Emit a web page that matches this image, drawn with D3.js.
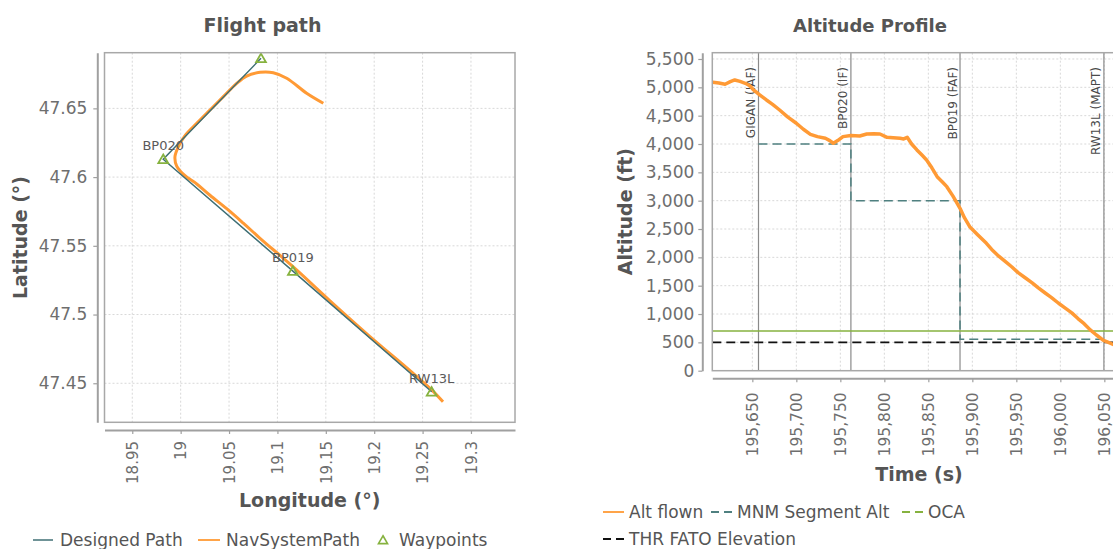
<!DOCTYPE html>
<html>
<head>
<meta charset="utf-8">
<script src="https://cdn.jsdelivr.net/npm/d3@7"></script>
<style>
  body { margin: 0; background: #fff; }
  svg { font-family: "DejaVu Sans", sans-serif; }
</style>
</head>
<body>
<script>
const w = 1113;
const h = 549;

// ---- Flight path data
const lonTicks = [18.95, 19, 19.05, 19.1, 19.15, 19.2, 19.25, 19.3];
const latTicks = [47.45, 47.5, 47.55, 47.6, 47.65];
const wpNames = ["GIGAN", "BP020", "BP019", "RW13L"];
const wpLon = [19.083, 18.982, 19.116, 19.2594];
const wpLat = [47.6864, 47.613, 47.5316, 47.4438];
const navLon = [19.1474, 19.1302, 19.1096, 19.0957, 19.0820, 19.0682, 19.0579, 19.0441, 19.0303,
                19.0166, 19.0045, 18.9976, 18.9941, 18.9959, 19.0045, 19.0166, 19.0303, 19.0476,
                19.0647, 19.0820, 19.1166, 19.1543, 19.1956, 19.2370, 19.2594, 19.2711];
const navLat = [47.6537, 47.6610, 47.6719, 47.6759, 47.6762, 47.6735, 47.6682, 47.6585, 47.6488,
                47.6391, 47.6302, 47.6221, 47.6148, 47.6080, 47.6010, 47.5950, 47.5868, 47.5770,
                47.5665, 47.5555, 47.5345, 47.5100, 47.4840, 47.4592, 47.4452, 47.4365];

// ---- Altitude profile data
const timeTicks = [195650, 195700, 195750, 195800, 195850, 195900, 195950, 196000, 196050];
const altTicks = [0, 500, 1000, 1500, 2000, 2500, 3000, 3500, 4000, 4500, 5000, 5500];
const flownTime = [195605, 195612, 195619, 195625, 195630, 195636, 195642, 195647, 195651, 195658,
                   195666, 195673, 195681, 195690, 195700, 195708, 195716, 195724, 195733, 195738,
                   195742, 195747, 195753, 195762, 195772, 195780, 195788, 195795, 195803, 195810,
                   195818, 195822, 195826, 195831, 195837, 195843, 195848, 195854, 195860, 195866,
                   195871, 195878, 195886, 195891, 195897, 195906, 195916, 195922, 195930, 195938,
                   195945, 195952, 195960, 195968, 195975, 195982, 195990, 195998, 196006, 196013,
                   196020, 196027, 196034, 196041, 196049, 196056, 196063];
const flownAlt = [5089, 5075, 5054, 5100, 5130, 5105, 5071, 5030, 4960, 4870,
                  4777, 4700, 4600, 4480, 4366, 4260, 4171, 4130, 4101, 4060,
                  4013, 4060, 4130, 4150, 4142, 4177, 4180, 4177, 4118, 4110,
                  4101, 4090, 4118, 4000, 3895, 3800, 3718, 3580, 3424, 3330,
                  3247, 3080, 2866, 2700, 2541, 2400, 2248, 2140, 2020, 1920,
                  1830, 1730, 1640, 1550, 1460, 1380, 1290, 1190, 1100, 1020,
                  920, 830, 720, 630, 535, 490, 445];
const markerTime = [195657, 195762, 195886, 196049.5];
const markerLabel = ["GIGAN (IAF)", "BP020 (IF)", "BP019 (FAF)", "RW13L (MAPT)"];
const mnmTime = [195657, 195762, 195762, 195886, 195886, 196049.5];
const mnmAlt = [4000, 4000, 3000, 3000, 555, 555];
const ocaAlt = 700;
const thrAlt = 500;

const teal = "#3f6f75";
const orange = "#ff9a35";
const green = "#86b23f";
const axisGrey = "#a0a0a0";
const tickText = "#6e6e6e";
const labelText = "#555";

const svg = d3.select("body").append("svg")
  .attr("width", w)
  .attr("height", h);

function styleAxis(g) {
  g.select(".domain").attr("stroke", axisGrey).attr("stroke-width", 2);
  g.selectAll(".tick line").attr("stroke", axisGrey).attr("stroke-width", 1.2);
  g.selectAll(".tick text").attr("fill", tickText).attr("font-family", "DejaVu Sans");
}

// ================= Flight path =================
const fp = {left: 104.5, right: 515, top: 52.7, bottom: 422.3};
const xLon = d3.scaleLinear().domain([18.9213, 19.3455]).range([fp.left, fp.right]);
const yLat = d3.scaleLinear().domain([47.4216, 47.6905]).range([fp.bottom, fp.top]);

svg.append("clipPath").attr("id", "clipFp")
  .append("rect")
  .attr("x", fp.left).attr("y", fp.top)
  .attr("width", fp.right - fp.left).attr("height", fp.bottom - fp.top);

const gridFp = svg.append("g");
gridFp.selectAll(".vg").data(lonTicks).enter().append("line")
  .attr("x1", d => xLon(d)).attr("x2", d => xLon(d))
  .attr("y1", fp.top).attr("y2", fp.bottom);
gridFp.selectAll(".hg").data(latTicks).enter().append("line")
  .attr("y1", d => yLat(d)).attr("y2", d => yLat(d))
  .attr("x1", fp.left).attr("x2", fp.right);
gridFp.selectAll("line")
  .attr("stroke", "#d8d8d8").attr("stroke-width", 1).attr("stroke-dasharray", "2,2");

const fpPlot = svg.append("g").attr("clip-path", "url(#clipFp)");
const lineFp = d3.line().x(d => xLon(d[0])).y(d => yLat(d[1]));

fpPlot.append("path")
  .datum(navLon.map((d, i) => [d, navLat[i]]))
  .attr("d", lineFp.curve(d3.curveCatmullRom))
  .attr("fill", "none").attr("stroke", orange).attr("stroke-width", 3)
  .attr("stroke-linejoin", "round");

fpPlot.append("path")
  .datum(wpLon.map((d, i) => [d, wpLat[i]]))
  .attr("d", d3.line().x(d => xLon(d[0])).y(d => yLat(d[1])))
  .attr("fill", "none").attr("stroke", teal).attr("stroke-width", 1.5);

fpPlot.selectAll(".wp").data(wpNames).enter().append("path")
  .attr("d", d3.symbol(d3.symbolTriangle, 42))
  .attr("transform", (d, i) => "translate(" + xLon(wpLon[i]) + "," + (yLat(wpLat[i]) + 1) + ")")
  .attr("fill", "none").attr("stroke", green).attr("stroke-width", 1.8);

fpPlot.selectAll(".wpl").data(wpNames).enter().append("text")
  .attr("x", (d, i) => xLon(wpLon[i]))
  .attr("y", (d, i) => yLat(wpLat[i]) - 9)
  .attr("text-anchor", "middle")
  .attr("font-size", 13)
  .attr("fill", "#5a5a5a")
  .text(d => d);

svg.append("rect")
  .attr("x", fp.left).attr("y", fp.top)
  .attr("width", fp.right - fp.left).attr("height", fp.bottom - fp.top)
  .attr("fill", "none").attr("stroke", "#a8a8a8").attr("stroke-width", 1.5);

const xAxisFp = svg.append("g")
  .attr("transform", "translate(0,430)")
  .call(d3.axisBottom(xLon).tickValues(lonTicks).tickSize(4).tickSizeOuter(0).tickFormat(d => String(d)));
xAxisFp.selectAll(".tick text")
  .attr("transform", "rotate(-90)")
  .attr("x", -11).attr("y", 0).attr("dy", "0.35em")
  .attr("text-anchor", "end")
  .attr("font-size", 15);
styleAxis(xAxisFp);

const yAxisFp = svg.append("g")
  .attr("transform", "translate(97.3,0)")
  .call(d3.axisLeft(yLat).tickValues(latTicks).tickSize(4).tickSizeOuter(0).tickPadding(6).tickFormat(d => String(d)));
yAxisFp.selectAll(".tick text").attr("font-size", 17);
styleAxis(yAxisFp);

svg.append("text")
  .attr("x", 262.5).attr("y", 32)
  .attr("text-anchor", "middle")
  .attr("font-size", 19).attr("font-weight", "bold").attr("fill", labelText)
  .text("Flight path");

svg.append("text")
  .attr("x", 309.7).attr("y", 507)
  .attr("text-anchor", "middle")
  .attr("font-size", 19).attr("font-weight", "bold").attr("fill", labelText)
  .text("Longitude (°)");

svg.append("text")
  .attr("transform", "translate(20," + ((fp.top + fp.bottom) / 2) + ") rotate(-90)")
  .attr("text-anchor", "middle").attr("dy", "0.35em")
  .attr("font-size", 19).attr("font-weight", "bold").attr("fill", labelText)
  .text("Latitude (°)");

// legend left
const legFp = svg.append("g").attr("font-size", 17).attr("fill", labelText);
legFp.append("line").attr("x1", 33).attr("x2", 53).attr("y1", 540).attr("y2", 540)
  .attr("stroke", teal).attr("stroke-width", 1.5);
legFp.append("text").attr("x", 60).attr("y", 546).text("Designed Path");
legFp.append("line").attr("x1", 198).attr("x2", 220).attr("y1", 540).attr("y2", 540)
  .attr("stroke", orange).attr("stroke-width", 1.8);
legFp.append("text").attr("x", 226).attr("y", 546).text("NavSystemPath");
legFp.append("path").attr("d", d3.symbol(d3.symbolTriangle, 36))
  .attr("transform", "translate(383,541)")
  .attr("fill", "none").attr("stroke", green).attr("stroke-width", 1.6);
legFp.append("text").attr("x", 399).attr("y", 546).text("Waypoints");

// ================= Altitude profile =================
const ap = {left: 712.3, right: 1123.7, top: 52.7, bottom: 370.7};
const xTime = d3.scaleLinear().domain([195604.5, 196072]).range([ap.left, ap.right]);
const yAlt = d3.scaleLinear().domain([0, 5611]).range([ap.bottom, ap.top]);

svg.append("clipPath").attr("id", "clipAp")
  .append("rect")
  .attr("x", ap.left).attr("y", ap.top)
  .attr("width", ap.right - ap.left).attr("height", ap.bottom - ap.top);

const gridAp = svg.append("g");
gridAp.selectAll(".vg").data(timeTicks).enter().append("line")
  .attr("x1", d => xTime(d)).attr("x2", d => xTime(d))
  .attr("y1", ap.top).attr("y2", ap.bottom);
gridAp.selectAll(".hg").data(altTicks.filter(d => d > 0)).enter().append("line")
  .attr("y1", d => yAlt(d)).attr("y2", d => yAlt(d))
  .attr("x1", ap.left).attr("x2", ap.right);
gridAp.selectAll("line")
  .attr("stroke", "#d8d8d8").attr("stroke-width", 1).attr("stroke-dasharray", "2,2");

const apPlot = svg.append("g").attr("clip-path", "url(#clipAp)");

apPlot.selectAll(".mk").data(markerTime).enter().append("line")
  .attr("x1", d => xTime(d)).attr("x2", d => xTime(d))
  .attr("y1", ap.top).attr("y2", ap.bottom)
  .attr("stroke", "#8a8a8a").attr("stroke-width", 1.2);

apPlot.selectAll(".mkl").data(markerTime).enter().append("text")
  .attr("transform", d => "translate(" + (xTime(d) - 3.5) + ",67) rotate(-90)")
  .attr("text-anchor", "end")
  .attr("font-size", 12)
  .attr("fill", "#4a4a4a")
  .text((d, i) => markerLabel[i]);

apPlot.append("line")
  .attr("x1", ap.left).attr("x2", ap.right)
  .attr("y1", yAlt(ocaAlt)).attr("y2", yAlt(ocaAlt))
  .attr("stroke", green).attr("stroke-width", 1.5);

apPlot.append("line")
  .attr("x1", ap.left).attr("x2", ap.right)
  .attr("y1", yAlt(thrAlt)).attr("y2", yAlt(thrAlt))
  .attr("stroke", "#111").attr("stroke-width", 1.6).attr("stroke-dasharray", "9,5");

const lineAp = d3.line().x(d => xTime(d[0])).y(d => yAlt(d[1]));

apPlot.append("path")
  .datum(mnmTime.map((d, i) => [d, mnmAlt[i]]))
  .attr("d", lineAp)
  .attr("fill", "none").attr("stroke", "#4f8080").attr("stroke-width", 1.5)
  .attr("stroke-dasharray", "9,5");

apPlot.append("path")
  .datum(flownTime.map((d, i) => [d, flownAlt[i]]))
  .attr("d", lineAp)
  .attr("fill", "none").attr("stroke", orange).attr("stroke-width", 3.5)
  .attr("stroke-linejoin", "round");

svg.append("rect")
  .attr("x", ap.left).attr("y", ap.top)
  .attr("width", ap.right - ap.left).attr("height", ap.bottom - ap.top)
  .attr("fill", "none").attr("stroke", "#a8a8a8").attr("stroke-width", 1.5);

const xAxisAp = svg.append("g")
  .attr("transform", "translate(0,378.3)")
  .call(d3.axisBottom(xTime).tickValues(timeTicks).tickSize(4).tickSizeOuter(0).tickFormat(d3.format(",")));
xAxisAp.selectAll(".tick text")
  .attr("transform", "rotate(-90)")
  .attr("x", -14).attr("y", 0).attr("dy", "0.35em")
  .attr("text-anchor", "end")
  .attr("font-size", 15.5);
styleAxis(xAxisAp);

const yAxisAp = svg.append("g")
  .attr("transform", "translate(702.3,0)")
  .call(d3.axisLeft(yAlt).tickValues(altTicks).tickSize(4).tickSizeOuter(0).tickPadding(4).tickFormat(d3.format(",")));
yAxisAp.selectAll(".tick text").attr("font-size", 17);
styleAxis(yAxisAp);

svg.append("text")
  .attr("x", 870).attr("y", 32)
  .attr("text-anchor", "middle")
  .attr("font-size", 18).attr("font-weight", "bold").attr("fill", labelText)
  .text("Altitude Profile");

svg.append("text")
  .attr("x", 919).attr("y", 481)
  .attr("text-anchor", "middle")
  .attr("font-size", 19).attr("font-weight", "bold").attr("fill", labelText)
  .text("Time (s)");

svg.append("text")
  .attr("transform", "translate(625," + ((ap.top + ap.bottom) / 2) + ") rotate(-90)")
  .attr("text-anchor", "middle").attr("dy", "0.35em")
  .attr("font-size", 19).attr("font-weight", "bold").attr("fill", labelText)
  .text("Altitude (ft)");

// legend right
const legAp = svg.append("g").attr("font-size", 17).attr("fill", labelText);
const legItems = [
  {x: 603, y: 512, color: orange, dash: null, label: "Alt flown"},
  {x: 711, y: 512, color: "#4f8080", dash: "8,5", label: "MNM Segment Alt"},
  {x: 902, y: 512, color: green, dash: "8,5", label: "OCA"},
  {x: 603, y: 539, color: "#111", dash: "8,5", label: "THR FATO Elevation"}
];
legItems.forEach(function(d) {
  legAp.append("line")
    .attr("x1", d.x).attr("x2", d.x + 21).attr("y1", d.y).attr("y2", d.y)
    .attr("stroke", d.color).attr("stroke-width", 1.8)
    .attr("stroke-dasharray", d.dash);
  legAp.append("text").attr("x", d.x + 26).attr("y", d.y + 6).text(d.label);
});
</script>
</body>
</html>
